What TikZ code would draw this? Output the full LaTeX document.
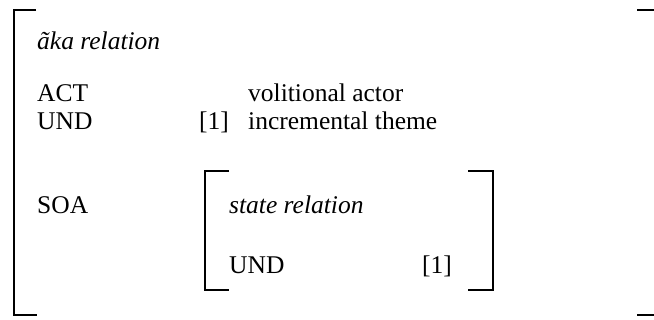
\documentclass[tikz,border=0pt]{standalone}
\usepackage{fontspec}
\setmainfont{Liberation Serif}
\begin{document}
\begin{tikzpicture}[x=1pt,y=-1pt,
  txt/.style={anchor=base west,inner sep=0pt,font=\fontsize{25.5}{30}\selectfont},
  brk/.style={line width=2pt,line cap=butt}]
\useasboundingbox[fill=white] (0,0) rectangle (654,320);
% outer bracket
\coordinate (otl) at (13.5,10);
\coordinate (obl) at (13.5,315);
\draw[brk] (36,10) -- (otl) -- (obl) -- (37,315);
\coordinate (otr) at (654,10);
\coordinate (obr) at (654,315);
\draw[brk] (637,10) -- (otr);
\draw[brk] (637,315) -- (obr);
% inner bracket
\coordinate (itl) at (205,171);
\coordinate (ibl) at (205,290);
\draw[brk] (229,171) -- (itl) -- (ibl) -- (229,290);
\coordinate (itr) at (493,171);
\coordinate (ibr) at (493,290);
\draw[brk] (468,171) -- (itr) -- (ibr) -- (468,290);
% texts
\node[txt] (title) at (37,50) {\itshape ãka relation};
\node[txt] (act) at (37,102) {ACT};
\node[txt] (actv) at (248,102) {volitional actor};
\node[txt] (und) at (37,130) {UND};
\node[txt] (tag) at (199,130) {[1]};
\node[txt] (undv) at (248,130) {incremental theme};
\node[txt] (soa) at (37,214) {SOA};
\node[txt] (st) at (229,214) {\itshape state relation};
\node[txt] (und2) at (229,274) {UND};
\node[txt] (tag2) at (422,274) {[1]};
\end{tikzpicture}
\end{document}
